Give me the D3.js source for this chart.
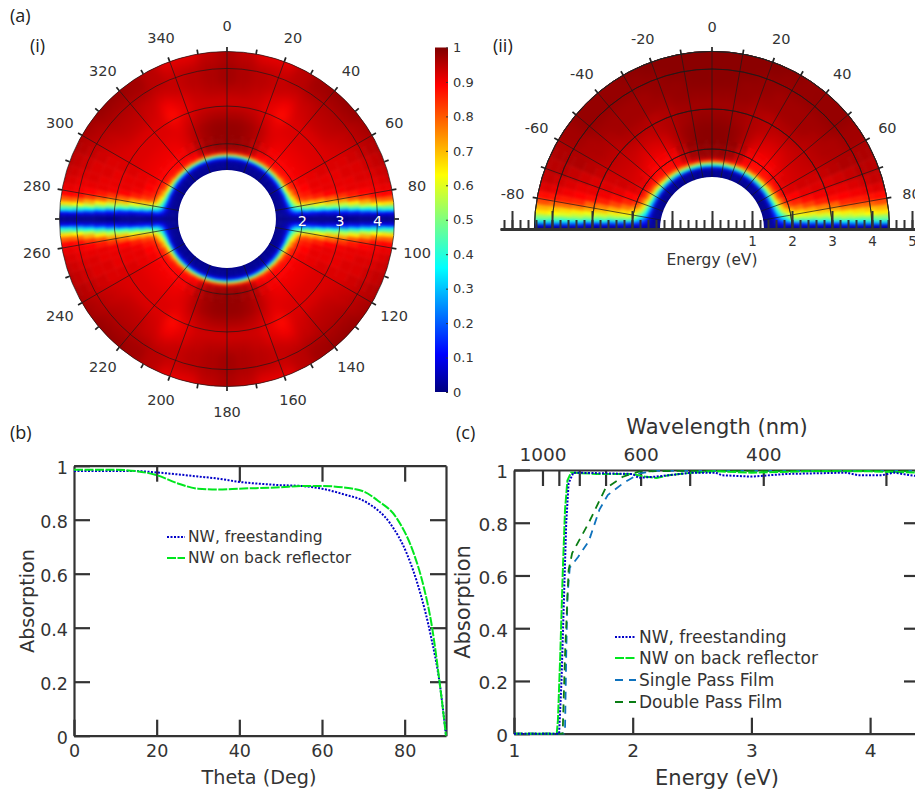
<!DOCTYPE html>
<html>
<head>
<meta charset="utf-8">
<script src="https://cdn.jsdelivr.net/npm/d3@7"></script>
<style>
body { margin: 0; background: #fff; }
svg { display: block; font-family: "DejaVu Sans", sans-serif; }
text { fill: #333; }
.tag { font-family: "Open Sans", sans-serif; font-size: 18px; fill: #222; }
.axis path, .axis line { stroke: #333; }
.axis text { fill: #333; }
</style>
</head>
<body>
<div id="chart"></div>
<script>
/*
 * Angle resolved absorption maps (a) and absorption curves (b), (c)
 */

// rows of the two maps (eV) and columns (deg from normal), both maps mirror about 0 and 90
var mapEnergy = [1.3, 1.45, 1.53, 1.6, 1.65, 1.7, 1.75, 1.82, 1.9, 2.0, 2.2, 2.5, 2.8, 3.1, 3.4, 3.7, 4.0, 4.25, 4.45];
var mapTheta = [0, 7, 14, 21, 28, 35, 42, 49, 56, 63, 69, 73, 76, 79, 81, 83, 84.5, 86, 87, 88, 89, 90];

var mapFree = [
  [.01,.01,.01,.01,.01,.01,.01,.01,.01,.01,.01,.01,.01,.01,.01,.01,.01,.01,.01,.01,.01,.01],
  [.02,.02,.02,.02,.02,.02,.02,.02,.02,.02,.02,.02,.02,.02,.02,.02,.02,.02,.02,.02,.01,.01],
  [.03,.03,.03,.03,.03,.03,.03,.03,.03,.03,.03,.03,.03,.03,.03,.03,.03,.03,.02,.02,.01,.01],
  [.10,.10,.10,.10,.10,.10,.10,.10,.10,.09,.08,.08,.07,.06,.05,.05,.04,.03,.03,.02,.02,.01],
  [.30,.30,.30,.30,.30,.30,.29,.28,.27,.25,.22,.19,.16,.13,.10,.08,.06,.05,.04,.03,.02,.01],
  [.55,.55,.55,.55,.54,.53,.52,.50,.48,.45,.40,.35,.30,.24,.19,.14,.10,.07,.05,.04,.02,.01],
  [.82,.82,.82,.81,.79,.77,.75,.72,.68,.63,.57,.50,.43,.36,.29,.21,.14,.09,.06,.04,.03,.01],
  [.95,.95,.94,.92,.89,.87,.86,.85,.82,.78,.71,.64,.57,.49,.40,.29,.19,.12,.08,.05,.03,.01],
  [.97,.97,.96,.94,.90,.89,.89,.88,.87,.85,.80,.74,.67,.58,.47,.34,.22,.13,.08,.05,.03,.01],
  [.98,.98,.97,.95,.92,.90,.89,.89,.89,.88,.87,.85,.80,.66,.52,.37,.20,.10,.07,.04,.02,.01],
  [.98,.98,.97,.95,.92,.90,.90,.90,.90,.90,.89,.87,.83,.71,.58,.43,.27,.12,.08,.04,.02,.01],
  [.98,.98,.97,.95,.92,.91,.91,.91,.91,.91,.91,.90,.86,.75,.63,.48,.33,.13,.07,.04,.02,.01],
  [.96,.96,.95,.93,.91,.92,.92,.92,.92,.92,.91,.91,.89,.80,.69,.54,.38,.17,.09,.05,.02,.01],
  [.93,.93,.93,.91,.88,.92,.92,.92,.92,.92,.91,.91,.90,.84,.73,.58,.44,.24,.11,.06,.02,.01],
  [.95,.95,.94,.92,.90,.93,.94,.94,.93,.92,.92,.91,.91,.87,.80,.65,.50,.32,.14,.07,.02,.01],
  [.97,.96,.95,.94,.93,.94,.95,.95,.94,.93,.92,.92,.91,.89,.84,.72,.57,.38,.21,.08,.03,.01],
  [.97,.96,.95,.94,.95,.96,.96,.96,.95,.94,.93,.92,.91,.90,.88,.78,.63,.42,.27,.10,.03,.01],
  [.96,.95,.93,.93,.95,.97,.97,.97,.96,.95,.94,.93,.92,.91,.89,.80,.66,.46,.31,.10,.04,.01],
  [.96,.94,.91,.91,.95,.97,.98,.98,.97,.96,.95,.94,.93,.91,.89,.80,.67,.47,.33,.10,.04,.01]
];

var mapReflector = [
  [.01,.01,.01,.01,.01,.01,.01,.01,.01,.01,.01,.01,.01,.01,.01,.01,.01,.01,.01,.01,.01,.01],
  [.02,.02,.02,.02,.02,.02,.02,.02,.02,.02,.02,.02,.02,.02,.02,.02,.02,.02,.02,.01,.01,.01],
  [.07,.07,.07,.07,.07,.07,.07,.06,.06,.06,.05,.05,.04,.04,.04,.03,.03,.03,.02,.02,.02,.01],
  [.33,.33,.33,.32,.31,.30,.29,.28,.26,.23,.20,.17,.14,.11,.09,.07,.06,.05,.04,.03,.02,.01],
  [.55,.55,.55,.54,.52,.50,.48,.46,.43,.39,.35,.30,.25,.20,.16,.12,.09,.07,.05,.04,.02,.01],
  [.78,.78,.77,.75,.72,.69,.66,.63,.59,.54,.48,.42,.36,.29,.23,.17,.13,.09,.07,.05,.03,.01],
  [.92,.92,.91,.88,.85,.82,.79,.76,.72,.67,.60,.53,.46,.37,.30,.22,.16,.11,.08,.05,.03,.01],
  [.97,.97,.95,.92,.89,.88,.87,.86,.83,.79,.72,.65,.57,.47,.38,.28,.20,.14,.09,.06,.03,.01],
  [.98,.98,.97,.94,.90,.88,.88,.88,.88,.86,.81,.74,.66,.56,.47,.36,.27,.17,.10,.05,.03,.01],
  [.98,.98,.97,.94,.90,.89,.89,.90,.91,.91,.88,.82,.72,.63,.58,.50,.38,.20,.10,.05,.03,.01],
  [.99,.99,.98,.95,.91,.90,.90,.91,.92,.92,.89,.85,.77,.68,.62,.54,.43,.26,.14,.07,.03,.01],
  [.99,.99,.98,.96,.93,.92,.92,.93,.93,.93,.91,.88,.82,.72,.65,.56,.46,.31,.19,.08,.03,.01],
  [.98,.98,.97,.96,.95,.94,.94,.94,.94,.93,.92,.90,.86,.76,.69,.59,.50,.39,.26,.09,.04,.01],
  [.97,.97,.97,.96,.95,.96,.96,.95,.95,.94,.92,.91,.88,.79,.72,.62,.54,.44,.30,.12,.05,.01],
  [.98,.98,.98,.97,.97,.97,.97,.96,.96,.95,.93,.91,.89,.85,.76,.65,.57,.48,.35,.20,.06,.01],
  [.99,.99,.98,.98,.97,.97,.97,.97,.96,.96,.94,.92,.90,.86,.78,.67,.60,.49,.38,.23,.06,.01],
  [.99,.99,.99,.98,.98,.98,.98,.98,.97,.96,.95,.93,.91,.87,.79,.69,.63,.50,.42,.27,.07,.01],
  [.99,.99,.99,.99,.98,.98,.98,.98,.97,.96,.95,.94,.92,.88,.81,.71,.65,.52,.44,.29,.07,.01],
  [.99,.99,.99,.99,.99,.98,.98,.98,.97,.96,.95,.94,.92,.88,.81,.71,.65,.52,.44,.29,.07,.01]
];

// jet colour bar
var jetValues = [0, .11, .36, .5, .63, .89, 1];
var jetColors = ["#00007f", "#0000ff", "#00ffff", "#7fff7f", "#ffff00", "#ff0000", "#7f0000"];
var colorbarTicks = [0, .1, .2, .3, .4, .5, .6, .7, .8, .9, 1];

// panel (b)
var thetaB = [0, 10, 15, 20, 25, 30, 35, 40, 45, 50, 55, 60, 65, 70.9, 76.5, 80.5, 83.8, 86.2, 88.6, 90];
var freeB = [.98, .98, .98, .975, .968, .96, .952, .94, .933, .928, .925, .915, .895, .863, .786, .675, .527, .379, .18, 0];
var thetaRefl = [0, 10, 15, 20, 25, 30, 35, 40, 50, 55, 60, 65, 70, 73.3, 78.1, 82.2, 84.6, 86.6, 88.6, 90];
var reflB = [.985, .985, .98, .965, .935, .915, .912, .915, .92, .925, .925, .92, .905, .873, .805, .675, .552, .404, .18, 0];

// panel (c)
var energyFree = [1, 1.38, 1.4, 1.42, 1.44, 1.46, 1.5, 2, 2.05, 2.2, 2.5, 2.7, 2.75, 3, 3.3, 3.8, 3.9, 4.1, 4.2, 4.42];
var absFree = [0, 0, .2, .5, .8, .95, .99, .985, .97, .975, .99, .99, .98, .975, .985, .99, .98, .98, .99, .975];
var energyRefl = [1, 1.36, 1.37, 1.39, 1.41, 1.43, 1.45, 1.48, 1.7, 2, 2.1, 2.2, 2.3, 2.5, 2.7, 3, 3.5, 4, 4.42];
var absRefl = [0, 0, .05, .3, .6, .85, .96, .99, .985, .985, .975, .97, .98, .99, .995, .99, .995, .995, .99];
var energySingle = [1, 1.42, 1.43, 1.44, 1.45, 1.47, 1.54, 1.63, 1.72, 1.79, 1.92, 2.06, 2.2, 3, 4.42];
var absSingle = [0, 0, .02, .3, .52, .63, .67, .73, .85, .905, .95, .987, .997, .997, .997];
var energyDouble = [1, 1.41, 1.43, 1.46, 1.49, 1.63, 1.77, 1.92, 2.06, 2.5, 3, 4.42];
var absDouble = [0, 0, .3, .62, .685, .8, .93, .975, .995, .997, .997, .997];

var wavelengthTicks = [1000, 900, 800, 700, 600, 500, 400, 300];
var wavelengthLabels = [1000, 600, 400];

var width = 915;
var height = 793;

var svg = d3.select("#chart").append("svg")
    .attr("width", width)
    .attr("height", height);

var defs = svg.append("defs");

function blurFilter(id, sd) {
    defs.append("filter")
        .attr("id", id)
        .attr("x", "-10%").attr("y", "-10%").attr("width", "120%").attr("height", "120%")
        .attr("color-interpolation-filters", "sRGB")
        .append("feGaussianBlur")
        .attr("stdDeviation", sd);
}
blurFilter("soft", 1.8);
blurFilter("softer", 5);

var jet = d3.scaleLinear().domain(jetValues).range(jetColors).clamp(true);
var plain = function (d) { return d3.format("~g")(d); };

function tag(x, y, label) {
    svg.append("text").attr("class", "tag").attr("x", x).attr("y", y).text(label);
}
tag(10, 22, "(a)");
tag(30, 52, "(i)");
tag(493, 52, "(ii)");
tag(10, 439, "(b)");
tag(456, 439, "(c)");

function rad(d) {
    return d * Math.PI / 180;
}

// one polar map: cells of the matrix, mirrored into all four quadrants.
// the slow parts away from ring and band get a wider blur on top
function drawMap(id, cx, cy, r, matrix, startDeg, endDeg, calmSectors) {
    var arc = d3.arc();
    var g = svg.append("g").attr("transform", "translate(" + cx + "," + cy + ")");

    defs.append("clipPath").attr("id", id)
        .append("path")
        .attr("d", arc({
            innerRadius: r(mapEnergy[0]),
            outerRadius: r(4.45),
            startAngle: rad(startDeg),
            endAngle: rad(endDeg)
        }));

    var calm = defs.append("clipPath").attr("id", id + "calm");
    calmSectors.forEach(function (s) {
        calm.append("path").attr("d", arc({
            innerRadius: r(2.25),
            outerRadius: r(4.45),
            startAngle: rad(s[0]),
            endAngle: rad(s[1])
        }));
    });

    var cells = [];
    matrix.forEach(function (row, i) {
        var e0 = i == 0 ? 0.9 : (mapEnergy[i - 1] + mapEnergy[i]) / 2;
        var e1 = i == matrix.length - 1 ? 5 : (mapEnergy[i] + mapEnergy[i + 1]) / 2;
        row.forEach(function (v, j) {
            var t0 = j == 0 ? 0 : (mapTheta[j - 1] + mapTheta[j]) / 2;
            var t1 = j == row.length - 1 ? 90 : (mapTheta[j] + mapTheta[j + 1]) / 2;
            [[t0, t1], [180 - t1, 180 - t0], [180 + t0, 180 + t1], [360 - t1, 360 - t0]].forEach(function (a) {
                cells.push({ v: v, innerRadius: r(e0), outerRadius: r(e1), startAngle: rad(a[0]), endAngle: rad(a[1]) });
            });
        });
    });

    [[id, "soft"], [id + "calm", "softer"]].forEach(function (layer) {
        g.append("g")
            .attr("clip-path", "url(#" + layer[0] + ")")
            .append("g")
            .attr("filter", "url(#" + layer[1] + ")")
            .selectAll("path")
            .data(cells)
            .enter()
            .append("path")
            .attr("d", arc)
            .attr("fill", function (d) { return jet(d.v); })
            .attr("stroke", function (d) { return jet(d.v); })
            .attr("stroke-width", 0.6);
    });

    return g;
}

function spoke(g, deg, r0, r1, color, w) {
    var a = rad(deg);
    g.append("line")
        .attr("x1", r0 * Math.sin(a)).attr("y1", -r0 * Math.cos(a))
        .attr("x2", r1 * Math.sin(a)).attr("y2", -r1 * Math.cos(a))
        .attr("stroke", color)
        .attr("stroke-width", w);
}

function angleLabel(g, deg, rr, label) {
    var a = rad(deg);
    g.append("text")
        .attr("x", rr * Math.sin(a))
        .attr("y", -rr * Math.cos(a))
        .attr("text-anchor", "middle")
        .attr("dominant-baseline", "central")
        .attr("font-size", 14.5)
        .text(label);
}

/* panel (a)(i) */
var rFree = d3.scaleLinear().domain([0, 4.45]).range([0, 167.5]);
var mapI = drawMap("clipI", 227, 219, rFree, mapFree, 0, 360, [[-62, 62], [118, 242]]);

[2, 3, 4, 4.45].forEach(function (e) {
    mapI.append("circle").attr("r", rFree(e)).attr("fill", "none")
        .attr("stroke", "#1a1a1a").attr("stroke-width", 0.7);
});
d3.range(0, 360, 20).forEach(function (d) {
    spoke(mapI, d, rFree(1.3), rFree(4.45), "#1a1a1a", 0.7);
    angleLabel(mapI, d, 193, d);
});
d3.range(0, 360, 10).forEach(function (d) {
    spoke(mapI, d, rFree(4.45), rFree(4.45) + 4.5, "#222", 1.7);
});
[2, 3, 4].forEach(function (e) {
    mapI.append("text")
        .attr("x", rFree(e))
        .attr("y", 2)
        .attr("text-anchor", "middle")
        .attr("dominant-baseline", "central")
        .attr("font-size", 14.5)
        .style("fill", "#fff")
        .text(e);
});

/* colour bar */
var barY = d3.scaleLinear().domain([0, 1]).range([392, 47.5]);
var gradient = defs.append("linearGradient")
    .attr("id", "jetBar")
    .attr("x1", 0).attr("x2", 0).attr("y1", 1).attr("y2", 0);
jetValues.forEach(function (v, i) {
    gradient.append("stop").attr("offset", v).attr("stop-color", jetColors[i]);
});
svg.append("rect")
    .attr("x", 435).attr("y", barY(1))
    .attr("width", 13).attr("height", barY(0) - barY(1))
    .attr("fill", "url(#jetBar)");
var barAxis = svg.append("g")
    .attr("class", "axis")
    .attr("transform", "translate(448,0)")
    .call(d3.axisRight(barY).tickValues(colorbarTicks).tickSize(-2).tickPadding(5).tickFormat(plain));
barAxis.select(".domain").remove();
barAxis.selectAll("text").attr("font-size", 13).attr("font-family", "DejaVu Sans");

/* panel (a)(ii) */
var rRefl = d3.scaleLinear().domain([0, 4.44]).range([0, 177.6]);
var mapII = drawMap("clipII", 712, 229, rRefl, mapReflector, -90, 90, [[-62, 62]]);

[2, 3, 4].forEach(function (e) {
    mapII.append("path")
        .attr("d", d3.arc()({ innerRadius: rRefl(e), outerRadius: rRefl(e), startAngle: rad(-90), endAngle: rad(90) }))
        .attr("fill", "none").attr("stroke", "#1a1a1a").attr("stroke-width", 0.7);
});
mapII.append("path")
    .attr("d", d3.arc()({ innerRadius: rRefl(4.44), outerRadius: rRefl(4.44), startAngle: rad(-90), endAngle: rad(90) }))
    .attr("fill", "none").attr("stroke", "#222").attr("stroke-width", 1);
d3.range(-80, 81, 10).forEach(function (d) {
    spoke(mapII, d, rRefl(1.3), rRefl(4.44), "#1a1a1a", 0.7);
    spoke(mapII, d, rRefl(4.44), rRefl(4.44) + 4.5, "#222", 1.7);
});
d3.range(-80, 81, 20).forEach(function (d) {
    angleLabel(mapII, d, 202.5, d);
});

var xEnergyII = d3.scaleLinear().domain([-5.3, 5.3]).range([712 - 212, 712 + 212]);
svg.append("g")
    .attr("class", "axis")
    .attr("transform", "translate(0,229)")
    .call(d3.axisBottom(xEnergyII).tickValues(d3.range(-26, 27).map(function (d) { return d / 5; }))
        .tickSizeInner(-9).tickSizeOuter(0).tickFormat(""))
    .selectAll("line").attr("stroke-width", 2);
var energyAxisII = svg.append("g")
    .attr("class", "axis")
    .attr("transform", "translate(0,229)")
    .call(d3.axisBottom(xEnergyII).tickValues([-5, -4, -3, -2, -1, 0, 1, 2, 3, 4, 5])
        .tickSizeInner(-18).tickSizeOuter(0).tickPadding(7)
        .tickFormat(function (d) { return d > 0 ? d : ""; }));
energyAxisII.selectAll("line").attr("stroke-width", 2);
energyAxisII.select(".domain").attr("stroke-width", 3);
energyAxisII.selectAll("text").attr("font-size", 13.5).attr("font-family", "DejaVu Sans");
svg.append("text")
    .attr("x", 712).attr("y", 265)
    .attr("text-anchor", "middle")
    .attr("font-size", 15.4)
    .text("Energy (eV)");

/* line panels */
function frame(x, y, bottomTicks, fontSize, pad) {
    var bottom = svg.append("g").attr("class", "axis")
        .attr("transform", "translate(0," + y.range()[0] + ")")
        .call(d3.axisBottom(x).tickValues(bottomTicks).tickSizeInner(-16).tickSizeOuter(0).tickPadding(pad).tickFormat(plain));
    var left = svg.append("g").attr("class", "axis")
        .attr("transform", "translate(" + x.range()[0] + ",0)")
        .call(d3.axisLeft(y).tickValues([0, .2, .4, .6, .8, 1]).tickSizeInner(-16).tickSizeOuter(0).tickPadding(6).tickFormat(plain));
    var right = svg.append("g").attr("class", "axis")
        .attr("transform", "translate(" + x.range()[1] + ",0)")
        .call(d3.axisRight(y).tickValues([.2, .4, .6, .8]).tickSizeInner(-16).tickSizeOuter(0).tickFormat(""));
    [bottom, left, right].forEach(function (a) {
        a.selectAll("line").attr("stroke-width", 2.2);
        a.select(".domain").attr("stroke-width", 2.2);
        a.selectAll("text").attr("font-size", fontSize).attr("font-family", "DejaVu Sans");
    });
    left.selectAll("text").attr("dy", "0.42em");
}

function curve(xs, ys, x, y, style) {
    var pts = xs.map(function (d, i) { return [d, ys[i]]; });
    var line = d3.line()
        .x(function (d) { return x(d[0]); })
        .y(function (d) { return y(d[1]); })
        .curve(style.smooth ? d3.curveMonotoneX : d3.curveLinear);
    svg.append("path")
        .attr("d", line(pts))
        .attr("fill", "none")
        .attr("stroke", style.color)
        .attr("stroke-width", style.width)
        .attr("stroke-dasharray", style.dash);
}

function legend(lx0, lx1, tx, fontSize, rows) {
    rows.forEach(function (d) {
        svg.append("line")
            .attr("x1", lx0).attr("x2", lx1)
            .attr("y1", d.y).attr("y2", d.y)
            .attr("stroke", d.style.color)
            .attr("stroke-width", d.style.width)
            .attr("stroke-dasharray", d.style.dash);
        svg.append("text")
            .attr("x", tx).attr("y", d.y)
            .attr("dominant-baseline", "central")
            .attr("font-size", fontSize)
            .text(d.label);
    });
}

function axisTitle(x, y, label, fontSize, rotate) {
    svg.append("text")
        .attr("transform", "translate(" + x + "," + y + ")" + (rotate ? " rotate(-90)" : ""))
        .attr("text-anchor", "middle")
        .attr("dominant-baseline", "central")
        .attr("font-size", fontSize)
        .text(label);
}

var dotted = { color: "#0000c8", width: 2, dash: "2,1.5" };
var greenDash = { color: "#00e61e", width: 2, dash: "9,1.5" };
var singleDash = { color: "#0e72bd", width: 1.8, dash: "8,6" };
var doubleDash = { color: "#0a7d14", width: 1.8, dash: "8,6" };

/* panel (b) */
var xB = d3.scaleLinear().domain([0, 90]).range([74, 446]);
var yB = d3.scaleLinear().domain([0, 1]).range([735.7, 465.7]);
frame(xB, yB, [0, 20, 40, 60, 80], 17.5, 9);
svg.append("g").attr("class", "axis")
    .attr("transform", "translate(0,465.7)")
    .call(d3.axisTop(xB).tickValues([20, 40, 60, 80]).tickSizeInner(-16).tickSizeOuter(0).tickFormat(""))
    .selectAll("line,path").attr("stroke-width", 2.2);
curve(thetaB, freeB, xB, yB, { color: dotted.color, width: 2, dash: dotted.dash, smooth: true });
curve(thetaRefl, reflB, xB, yB, { color: greenDash.color, width: 2, dash: greenDash.dash, smooth: true });
legend(167, 185, 188, 15.5, [
    { y: 537, label: "NW, freestanding", style: dotted },
    { y: 558, label: "NW on back reflector", style: greenDash }
]);
axisTitle(259, 777, "Theta (Deg)", 19.2);
axisTitle(27, 601, "Absorption", 19.2, true);

/* panel (c) */
var xC = d3.scaleLinear().domain([1, 1 + 406 / 118.7]).range([514, 920]);
var yC = d3.scaleLinear().domain([0, 1]).range([733.7, 470]);
frame(xC, yC, [1, 2, 3, 4], 18.5, 10);

// top axis is wavelength, placed at the photon energy of each tick
var topAxis = svg.append("g").attr("class", "axis")
    .attr("transform", "translate(0,470)")
    .call(d3.axisTop(xC)
        .tickValues(wavelengthTicks.map(function (w) { return 1240 / w; }))
        .tickSizeInner(-16).tickSizeOuter(0).tickPadding(9)
        .tickFormat(function (e) {
            var w = Math.round(1240 / e);
            return wavelengthLabels.indexOf(w) >= 0 ? w : "";
        }));
topAxis.selectAll("line,path").attr("stroke-width", 2.2);
topAxis.selectAll("text").attr("font-size", 18.5).attr("font-family", "DejaVu Sans");

curve(energySingle, absSingle, xC, yC, singleDash);
curve(energyDouble, absDouble, xC, yC, doubleDash);
curve(energyRefl, absRefl, xC, yC, greenDash);
curve(energyFree, absFree, xC, yC, dotted);
legend(615, 636, 639, 17, [
    { y: 637, label: "NW, freestanding", style: dotted },
    { y: 658, label: "NW on back reflector", style: greenDash },
    { y: 680, label: "Single Pass Film", style: singleDash },
    { y: 702, label: "Double Pass Film", style: doubleDash }
]);
axisTitle(717, 778, "Energy (eV)", 21);
axisTitle(717, 427, "Wavelength (nm)", 21);
axisTitle(463, 602, "Absorption", 21, true);
</script>
</body>
</html>
